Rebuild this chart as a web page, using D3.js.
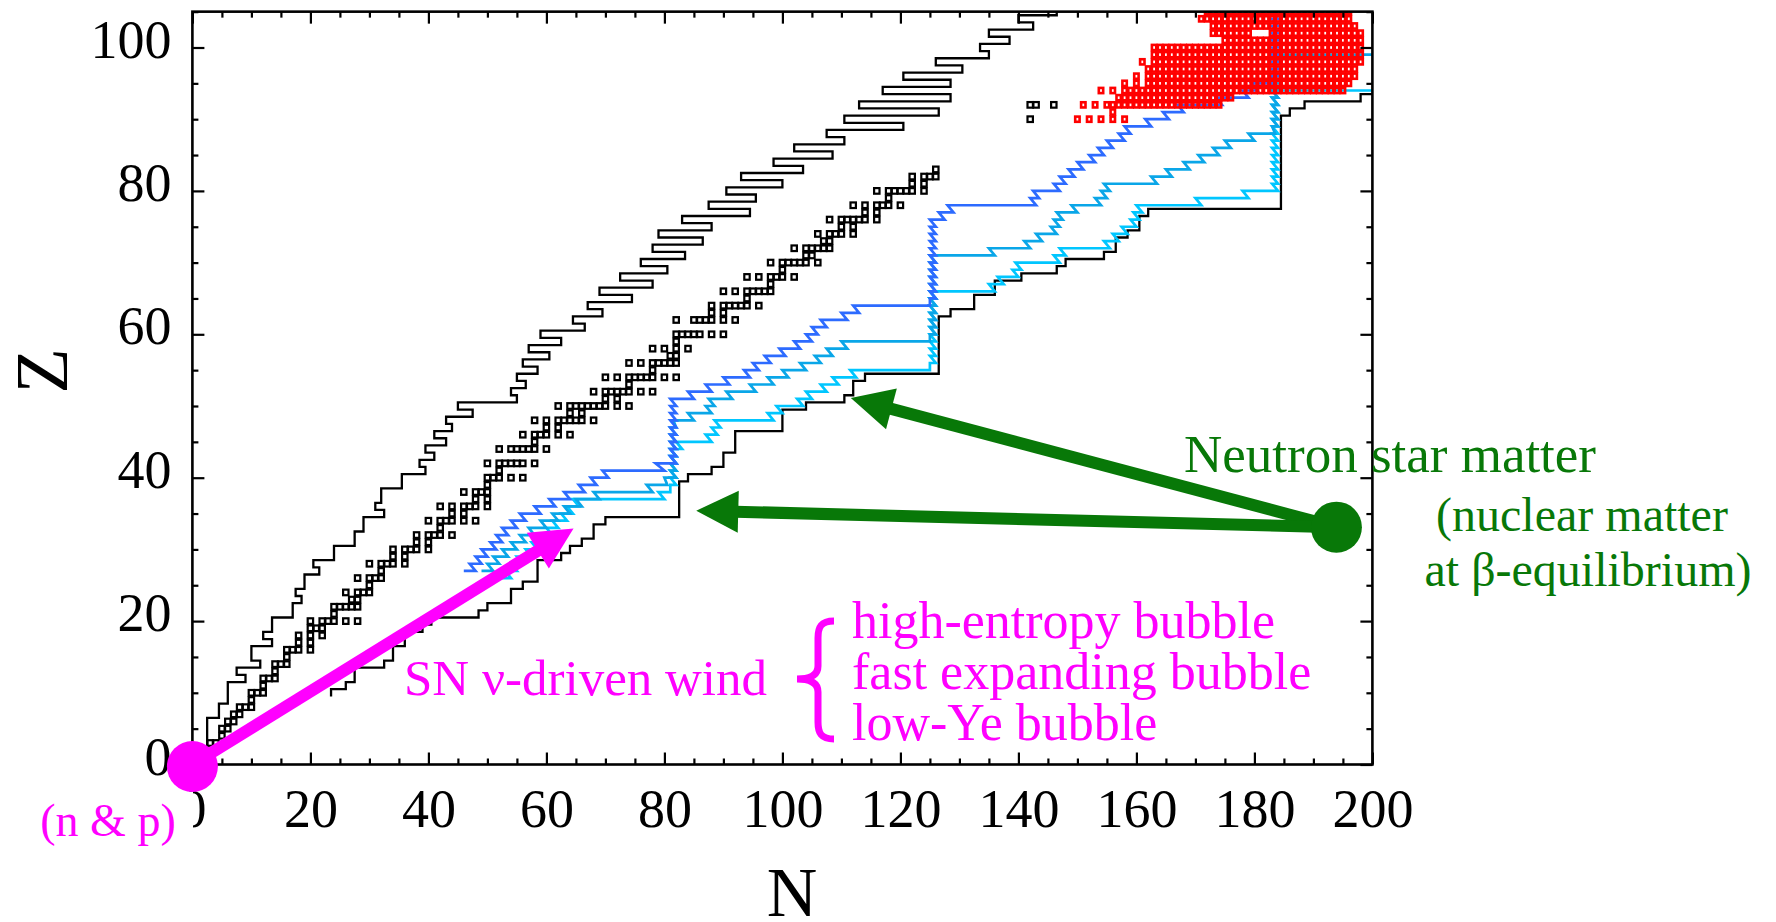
<!DOCTYPE html>
<html>
<head>
<meta charset="utf-8">
<script src="https://cdn.jsdelivr.net/npm/d3@7"></script>
<style>
  html, body { margin: 0; padding: 0; background: #fff; }
  svg { display: block; font-family: "Liberation Serif", "Times New Roman", Times, serif; }
</style>
</head>
<body>
<svg id="chart" width="1776" height="922"></svg>
<script>
// ---------------- axis ticks ----------------
const nMajorTicks = [0, 20, 40, 60, 80, 100, 120, 140, 160, 180, 200];
const zMajorTicks = [0, 20, 40, 60, 80, 100];
const minorStep = 5;

// ---------------- stable (and primordial) nuclides: [Z, mass numbers] ----------------
const stableIsotopes = [
  [1,[1,2]],[2,[3,4]],[3,[6,7]],[4,[9]],[5,[10,11]],[6,[12,13]],[7,[14,15]],[8,[16,17,18]],[9,[19]],[10,[20,21,22]],
  [11,[23]],[12,[24,25,26]],[13,[27]],[14,[28,29,30]],[15,[31]],[16,[32,33,34,36]],[17,[35,37]],[18,[36,38,40]],[19,[39,40,41]],[20,[40,42,43,44,46,48]],
  [21,[45]],[22,[46,47,48,49,50]],[23,[50,51]],[24,[50,52,53,54]],[25,[55]],[26,[54,56,57,58]],[27,[59]],[28,[58,60,61,62,64]],[29,[63,65]],[30,[64,66,67,68,70]],
  [31,[69,71]],[32,[70,72,73,74,76]],[33,[75]],[34,[74,76,77,78,80,82]],[35,[79,81]],[36,[78,80,82,83,84,86]],[37,[85,87]],[38,[84,86,87,88]],[39,[89]],[40,[90,91,92,94,96]],
  [41,[93]],[42,[92,94,95,96,97,98,100]],[44,[96,98,99,100,101,102,104]],[45,[103]],[46,[102,104,105,106,108,110]],[47,[107,109]],[48,[106,108,110,111,112,113,114,116]],[49,[113,115]],[50,[112,114,115,116,117,118,119,120,122,124]],
  [51,[121,123]],[52,[120,122,123,124,125,126,128,130]],[53,[127]],[54,[124,126,128,129,130,131,132,134,136]],[55,[133]],[56,[130,132,134,135,136,137,138]],[57,[138,139]],[58,[136,138,140,142]],[59,[141]],[60,[142,143,144,145,146,148,150]],
  [62,[144,147,148,149,150,152,154]],[63,[151,153]],[64,[152,154,155,156,157,158,160]],[65,[159]],[66,[156,158,160,161,162,163,164]],[67,[165]],[68,[162,164,166,167,168,170]],[69,[169]],[70,[168,170,171,172,173,174,176]],
  [71,[175,176]],[72,[174,176,177,178,179,180]],[73,[180,181]],[74,[180,182,183,184,186]],[75,[185,187]],[76,[184,186,187,188,189,190,192]],[77,[191,193]],[78,[190,192,194,195,196,198]],[79,[197]],[80,[196,198,199,200,201,202,204]],
  [81,[203,205]],[82,[204,206,207,208]],[83,[209]],[90,[232]],[92,[234,235,238]]
];

// ---------------- proton-rich limit: lowest N edge for each Z row ----------------
const protonEdge = [
  [2,2.5],[3,2.5],[4,2.5],[5,2.5],[6,2.5],[7,4.5],[8,4.5],[9,6],[10,6],[11,6],
  [12,9],[13,7.5],[14,11.5],[15,10],[16,10],[17,13.5],[18,12],[19,13.5],[20,13.5],[21,17],
  [22,17],[23,18.5],[24,17.5],[25,19],[26,19],[27,21.5],[28,20.5],[29,24],[30,24],[31,27.5],
  [32,27.5],[33,29],[34,29],[35,32.5],[36,31],[37,32],[38,32],[39,35.5],[40,35.5],[41,39.5],
  [42,38.5],[43,41],[44,39.5],[45,43],[46,41],[47,44],[48,43],[49,47.5],[50,45],[51,55],
  [52,54],[53,56.5],[54,55],[55,58.5],[56,56],[57,60.5],[58,57],[59,62.5],[60,59],[61,66.5],
  [62,64.5],[63,69.5],[64,67],[65,74.5],[66,69],[67,78],[68,72.5],[69,80.5],[70,76],[71,83.5],
  [72,78],[73,86.5],[74,79],[75,88],[76,83],[77,94.5],[78,87.5],[79,95.5],[80,90.5],[81,100],
  [82,93],[83,103.5],[84,98.5],[85,108.5],[86,102],[87,110.5],[88,107.5],[89,120.5],[90,110.5],[91,126.5],
  [92,113],[93,128.5],[94,117],[95,128.5],[96,120.5],[97,130.5],[98,126],[99,135],[100,133.5],[101,138.5],
  [102,135],[103,142.5],[104,140],[105,146.5]
];

// ---------------- neutron-rich limit: [first Z of step, N edge] ----------------
const neutronEdge = [
  [10,23.5],[11,26],[12,27.5],[14,32.5],[15,34],[17,36],[19,39],[20,40.5],[21,48.5],[22,50],
  [23,54],[25,56],[26,58.5],[29,62.5],[30,64],[31,66],[32,68],[34,70],[35,82.5],[40,84],
  [41,88],[42,90],[44,92],[47,100],[50,104],[51,110.5],[52,112],[54,114],[55,126.5],[63,128.5],
  [64,132.5],[66,136],[68,140.5],[69,146.5],[70,148],[71,154.5],[72,156.5],[74,158.5],[75,160.5],[77,162],
  [78,184.5],[91,186],[92,188.5],[93,198],[94,200]
];

// ---------------- r-process paths: [Z, N from, N to] ----------------
const pathBlue = [
  [27,46,48],[28,47,49],[29,48,50],[30,49,51.5],[31,50.5,52.5],[32,51.5,53.5],[33,52.5,55],[34,54,56.5],[35,55.5,59],[36,58,61.5],
  [37,60.5,64],[38,63,66.5],[39,65.5,68.5],[40,67.5,70.5],[41,69.5,80],[42,78.5,82],[43,81,82],[44,81,82],[45,81,82],[46,81,82],
  [47,81,82],[48,81,82],[49,81,82],[50,81,82],[51,81,85],[52,84,88],[53,87,91],[54,90,94.5],[55,93.5,96],[56,95,98],
  [57,97,100.5],[58,99.5,103],[59,102,105],[60,104,106],[61,105,107.5],[62,106.5,111],[63,110,113],[64,112,125],[65,125,126],[66,125,126],
  [67,125,126],[68,125,126],[69,125,126],[70,125,126],[71,125,126],[72,125,126],[73,125,126],[74,125,126],[75,125,126],[76,125,127.5],
  [77,126.5,129],[78,128,143],[79,142,143.5],[80,142.5,147],[81,146,148],[82,147,149.5],[83,148.5,151],[84,150,153],[85,152,154.5],[86,153.5,156],
  [87,155,158],[88,157,159],[89,158,162.5],[90,161.5,165.5],[91,164.5,168],[92,167,174.5],[93,173.5,179],[94,178,180.5],[95,179.5,183],[96,183,184],
  [97,183,184],[98,183,184],[99,183,184],[100,183,184],[101,183,184],[102,183,184],[103,183,184],[104,183,184],[105,183,184]
];
const pathAzure = [
  [27,49,51],[28,50,52],[29,51,53.5],[30,52.5,55],[31,54,56.5],[32,55.5,58],[33,57,60],[34,59,62],[35,61,64],[36,63,66],
  [37,65,69],[38,68,78],[39,77,80.5],[40,80,82],[41,81,82],[42,81,82],[43,81,82],[44,81,82],[45,81,82],[46,81,82],
  [47,81,82],[48,81.5,85],[49,84,88],[50,87,88.5],[51,87.5,91.5],[52,90.5,95.5],[53,94.5,98.5],[54,97.5,101],[55,100,104],[56,103,106.5],
  [57,105.5,108.5],[58,107.5,111],[59,110,125],[60,125,126],[61,125,126],[62,125,126],[63,125,126],[64,125,126],[65,125,126],[66,125,126],
  [67,125,126],[68,125,126],[69,125,126],[70,125,126],[71,125,136],[72,135,142],[73,141,144],[74,143,146.5],[75,145.5,147],[76,146,147.5],
  [77,146.5,150],[78,149,154],[79,153,155],[80,154,155.5],[81,154.5,163.5],[82,162.5,166],[83,165,169],[84,168,171.5],[85,170.5,174],[86,173,176],
  [87,175,180],[88,179,183.5],[89,183,184],[90,183,184],[91,183,184],[92,183,184],[93,183,184],[94,183,184],[95,183,184],[96,183,184],
  [97,183,184],[98,183,184],[99,183,200]
];
const pathCyan = [
  [26,52.5,54],[27,53,55],[28,54,56],[29,55,57.5],[30,56.5,58.5],[31,57.5,60],[32,59,61],[33,60,62],[34,61,63.5],[35,62.5,64.5],
  [36,63.5,65.5],[37,64.5,80],[38,79,81],[39,81,82],[40,81,82],[41,81,82],[42,81,82],[43,81,82],[44,81,83],[45,82,88],
  [46,87,89],[47,88,89.5],[48,88.5,98.5],[49,97.5,100],[50,99,103.5],[51,102.5,105],[52,104,107.5],[53,106.5,109.5],[54,108.5,112.5],[55,111.5,125],
  [56,125,126],[57,125,126],[58,125,126],[59,125,126],[60,125,126],[61,125,126],[62,125,126],[63,125,126],[64,125,126],[65,125,126],
  [66,125,136],[67,135,137.5],[68,136.5,140],[69,139,140.5],[70,139.5,147],[71,146,148],[72,147,155.5],[73,154.5,157],[74,156,158.5],[75,157.5,160],
  [76,159,160.5],[77,159.5,161],[78,160,171],[79,170,179],[80,178,184],[81,183,184],[82,183,184],[83,183,184],[84,183,184],[85,183,184],
  [86,183,184],[87,183,184],[88,183,184],[89,183,184],[90,183,184],[91,183,184],[92,183,184],[93,183,184],[94,183,200]
];

// ---------------- fissioning nuclei: [Z, N ranges] ----------------
const fissionCells = [
  [90, [[150,150],[152,152],[154,154],[156,156],[158,158]]],
  [91, [[156,156]]],
  [92, [[151,151],[153,153],[155,174]]],
  [93, [[157,176]]],
  [94, [[154,154],[156,156],[158,195]]],
  [95, [[158,158],[160,160],[162,196]]],
  [96, [[160,160],[162,197]]],
  [97, [[162,197]]],
  [98, [[161,161],[163,198]]],
  [99, [[163,198]]],
  [100, [[163,198]]],
  [101, [[175,198]]],
  [102, [[173,179],[183,198]]],
  [103, [[173,197]]],
  [104, [[171,196]]],
  [105, [[172,196]]]
];

// ---------------- annotation anchors (N, Z) ----------------
const nucleonSource = [0, 0];
const windArrowTip = [64.6, 32.9];
const neutronStarSource = [193.9, 33.1];
const neutronStarTips = [[111.6, 51.1], [85.4, 35.4]];
const bubbleLabels = ["high-entropy bubble", "fast expanding bubble", "low-Ye bubble"];

// ---------------- colours ----------------
const colBlue = "#2d6bff", colAzure = "#0aa6e8", colCyan = "#00c6ff";
const colMagenta = "#ff00ff", colGreen = "#087808", colRed = "#ff0000";

// ---------------- scales ----------------
const svg = d3.select("#chart");
const x = d3.scaleLinear().domain([0, 200]).range([192.4, 1372.4]);
const y = d3.scaleLinear().domain([0, 105]).range([764.5, 11.65]);
const line = d3.line().x(d => x(d[0])).y(d => y(d[1]));

svg.append("defs").append("clipPath").attr("id", "plotClip")
  .append("rect")
  .attr("x", x(0)).attr("y", y(105))
  .attr("width", x(200) - x(0)).attr("height", y(0) - y(105));

const plot = svg.append("g").attr("clip-path", "url(#plotClip)");

// boundaries built as cell-edge staircases
function protonSteps(rows) {
  const pts = [];
  rows.forEach(([z, n]) => { pts.push([n, z - 0.5], [n, z + 0.5]); });
  return pts;
}
function neutronSteps(rows) {
  const pts = [];
  rows.forEach(([z, n], i) => {
    pts.push([n, z - 0.5]);
    if (i < rows.length - 1) pts.push([n, rows[i + 1][0] - 0.5]);
  });
  return pts;
}
function pathPoints(rows) {
  const pts = [];
  rows.forEach(([z, a, b]) => { pts.push([a, z], [b, z]); });
  return pts;
}

plot.append("path").attr("d", line(protonSteps(protonEdge)))
  .attr("fill", "none").attr("stroke", "#000").attr("stroke-width", 2.3);
plot.append("path").attr("d", line(neutronSteps(neutronEdge)))
  .attr("fill", "none").attr("stroke", "#000").attr("stroke-width", 2.3);

[[pathCyan, colCyan], [pathAzure, colAzure], [pathBlue, colBlue]].forEach(([rows, c]) => {
  plot.append("path").attr("d", line(pathPoints(rows)))
    .attr("fill", "none").attr("stroke", c).attr("stroke-width", 2.7)
    .attr("stroke-linejoin", "miter");
});

// stable nuclides
const stableCells = [];
stableIsotopes.forEach(([z, masses]) => masses.forEach(a => stableCells.push([a - z, z])));
plot.append("g").selectAll("rect").data(stableCells).join("rect")
  .attr("x", d => x(d[0]) - 2.7).attr("y", d => y(d[1]) - 2.8)
  .attr("width", 5.4).attr("height", 5.6)
  .attr("fill", "none").attr("stroke", "#000").attr("stroke-width", 2.2);

// fission region
const redCells = [];
fissionCells.forEach(([z, ranges]) => ranges.forEach(([a, b]) => {
  for (let n = a; n <= b; n++) redCells.push([n, z]);
}));
plot.append("g").selectAll("rect").data(redCells).join("rect")
  .attr("x", d => x(d[0]) - 2.2).attr("y", d => y(d[1]) - 2.6)
  .attr("width", 4.4).attr("height", 5.2)
  .attr("fill", "none").attr("stroke", colRed).attr("stroke-width", 2.6);

// ---------------- axes ----------------
const nMinor = d3.range(0, 201, minorStep).filter(v => v % 20 !== 0);
const zMinor = d3.range(0, 106, minorStep).filter(v => v % 20 !== 0);
const serif = '"Liberation Serif", "Times New Roman", Times, serif';

function styleAxis(g) {
  g.select(".domain").remove();
  g.selectAll(".tick line").attr("stroke", "#000").attr("stroke-width", 2.2);
  g.attr("font-family", serif).attr("font-size", 54);
  g.selectAll("text").attr("fill", "#000");
}

const axisB = svg.append("g").attr("transform", `translate(0,${y(0)})`);
axisB.append("g").call(d3.axisBottom(x).tickValues(nMinor).tickSize(-6).tickSizeOuter(0).tickFormat("")).call(styleAxis);
axisB.append("g").call(d3.axisBottom(x).tickValues(nMajorTicks).tickSize(-12).tickSizeOuter(0).tickFormat(d3.format("d")))
  .call(styleAxis)
  .call(g => g.selectAll("text").attr("y", 62.5).attr("dy", null));

const axisT = svg.append("g").attr("transform", `translate(0,${y(105)})`);
axisT.append("g").call(d3.axisTop(x).tickValues(nMinor).tickSize(-6).tickSizeOuter(0).tickFormat("")).call(styleAxis);
axisT.append("g").call(d3.axisTop(x).tickValues(nMajorTicks).tickSize(-12).tickSizeOuter(0).tickFormat("")).call(styleAxis);

const axisL = svg.append("g").attr("transform", `translate(${x(0)},0)`);
axisL.append("g").call(d3.axisLeft(y).tickValues(zMinor).tickSize(-6).tickSizeOuter(0).tickFormat("")).call(styleAxis);
axisL.append("g").call(d3.axisLeft(y).tickValues(zMajorTicks).tickSize(-12).tickSizeOuter(0).tickFormat(d3.format("d")))
  .call(styleAxis)
  .call(g => g.selectAll("text").attr("x", -21).attr("y", 9.5).attr("dy", null));

const axisR = svg.append("g").attr("transform", `translate(${x(200)},0)`);
axisR.append("g").call(d3.axisRight(y).tickValues(zMinor).tickSize(-6).tickSizeOuter(0).tickFormat("")).call(styleAxis);
axisR.append("g").call(d3.axisRight(y).tickValues(zMajorTicks).tickSize(-12).tickSizeOuter(0).tickFormat("")).call(styleAxis);

svg.append("rect")
  .attr("x", x(0)).attr("y", y(105))
  .attr("width", x(200) - x(0)).attr("height", y(0) - y(105))
  .attr("fill", "none").attr("stroke", "#000").attr("stroke-width", 2.6);

// axis titles
svg.append("text").attr("x", 792).attr("y", 916).attr("text-anchor", "middle")
  .attr("font-size", 70).attr("fill", "#000").text("N");
svg.append("text").attr("transform", "translate(67,371) rotate(-90)").attr("text-anchor", "middle")
  .attr("font-size", 74).attr("fill", "#000").text("Z");

// ---------------- annotations ----------------
const ann = svg.append("g");

function arrow(g, from, to, color, w, headLen, headW) {
  const x0 = x(from[0]), y0 = y(from[1]), x1 = x(to[0]), y1 = y(to[1]);
  const dx = x1 - x0, dy = y1 - y0, L = Math.hypot(dx, dy), ux = dx / L, uy = dy / L;
  const bx = x1 - ux * headLen, by = y1 - uy * headLen;
  g.append("line").attr("x1", x0).attr("y1", y0).attr("x2", bx + ux * 3).attr("y2", by + uy * 3)
    .attr("stroke", color).attr("stroke-width", w);
  g.append("path")
    .attr("d", `M${x1},${y1}L${bx - uy * headW / 2},${by + ux * headW / 2}L${bx + uy * headW / 2},${by - ux * headW / 2}Z`)
    .attr("fill", color);
}

// supernova wind source
arrow(ann, nucleonSource, windArrowTip, colMagenta, 12, 42, 42);
ann.append("circle").attr("cx", x(nucleonSource[0])).attr("cy", y(nucleonSource[1]) + 2).attr("r", 25.5).attr("fill", colMagenta);
ann.append("rect").attr("x", 20).attr("y", 792).attr("width", 173).attr("height", 62).attr("fill", "#fff");
ann.append("text").attr("x", 108).attr("y", 836).attr("text-anchor", "middle")
  .attr("font-size", 46).attr("fill", colMagenta).text("(n & p)");
ann.append("text").attr("x", 404).attr("y", 695)
  .attr("font-size", 51).attr("fill", colMagenta).text("SN \u03bd-driven wind");
ann.append("path")
  .attr("d", "M834,621 C821,621 818,627 818,638 L818,666 C818,675 811,679 797,679 C811,679 818,683 818,692 L818,722 C818,733 821,739 834,739")
  .attr("fill", "none").attr("stroke", colMagenta).attr("stroke-width", 7);
bubbleLabels.forEach((t, i) => {
  ann.append("text").attr("x", 852).attr("y", 638 + i * 51)
    .attr("font-size", 52).attr("fill", colMagenta).text(t);
});

// neutron star matter source
neutronStarTips.forEach(t => arrow(ann, neutronStarSource, t, colGreen, 12, 42, 42));
ann.append("circle").attr("cx", x(neutronStarSource[0])).attr("cy", y(neutronStarSource[1])).attr("r", 25.5).attr("fill", colGreen);
ann.append("text").attr("x", 1390).attr("y", 472).attr("text-anchor", "middle")
  .attr("font-size", 53).attr("fill", colGreen).text("Neutron star matter");
ann.append("text").attr("x", 1582).attr("y", 531).attr("text-anchor", "middle")
  .attr("font-size", 48).attr("fill", colGreen).text("(nuclear matter");
ann.append("text").attr("x", 1588).attr("y", 586).attr("text-anchor", "middle")
  .attr("font-size", 48).attr("fill", colGreen).text("at \u03b2-equilibrium)");
</script>
</body>
</html>
